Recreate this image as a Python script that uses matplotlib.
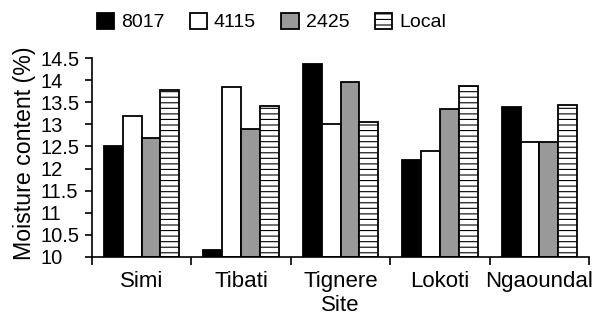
import matplotlib
matplotlib.use("Agg")
import matplotlib.pyplot as plt
import numpy as np

sites = ["Simi", "Tibati", "Tignere", "Lokoti", "Ngaoundal"]
series_names = ["8017", "4115", "2425", "Local"]
v8017 = [12.5, 10.15, 14.37, 12.2, 13.4]
v4115 = [13.2, 13.85, 13.0, 12.4, 12.6]
v2425 = [12.7, 12.9, 13.95, 13.35, 12.6]
vlocal = [13.78, 13.42, 13.05, 13.87, 13.43]
yticks = [10, 10.5, 11, 11.5, 12, 12.5, 13, 13.5, 14, 14.5]
ytick_labels = ["10", "10.5", "11", "11.5", "12", "12.5", "13", "13.5", "14", "14.5"]

plt.rcParams['font.family'] = ['Liberation Sans', 'DejaVu Sans']
plt.rcParams['hatch.linewidth'] = 0.8
plt.rcParams['hatch.color'] = '#808080'

fig = plt.figure(figsize=(6.0, 3.14), dpi=100)
ax = fig.add_axes([0.153, 0.182, 0.829, 0.633])

x = np.arange(len(sites))
w = 0.19
styles = [
    dict(facecolor='black', edgecolor='black'),
    dict(facecolor='white', edgecolor='black'),
    dict(facecolor='#999999', edgecolor='black'),
    dict(facecolor='white', edgecolor='black', hatch='---'),
]
data = [v8017, v4115, v2425, vlocal]
handles = []
for i, (vals, st) in enumerate(zip(data, styles)):
    heights = np.array(vals) - 10
    b = ax.bar(x + (i - 1.5) * w, heights, w, bottom=10, linewidth=1.3,
               label=series_names[i], **st)
    handles.append(b)

ax.set_xlim(-0.5, len(sites) - 0.5)
ax.set_ylim(10, 14.5)
ax.set_yticks(yticks)
ax.set_yticklabels(ytick_labels, fontsize=14.5, ha='left')
ax.set_xticks(x)
ax.set_xticklabels(sites, fontsize=16)
ax.set_xticks(np.arange(len(sites) + 1) - 0.5, minor=True)
ax.tick_params(axis='x', which='major', length=0, pad=10)
ax.tick_params(axis='x', which='minor', length=6, width=1.2, direction='out')
ax.tick_params(axis='y', length=5, width=1.2, direction='out', pad=32)
for s in ['top', 'right']:
    ax.spines[s].set_visible(False)
for s in ['left', 'bottom']:
    ax.spines[s].set_linewidth(1.2)
ax.set_ylabel("Moisture content (%)", fontsize=16.7)
ax.yaxis.set_label_coords(-0.113, 0.523)
ax.set_xlabel("Site", fontsize=16, labelpad=2)

fig.legend(handles=handles, labels=series_names, loc='center', ncol=4,
           bbox_to_anchor=(0.452, 0.93), frameon=False, fontsize=14,
           handlelength=0.9, handleheight=0.9, handletextpad=0.35, columnspacing=1.3,
           borderaxespad=0)

fig.savefig("out.png", dpi=100)
